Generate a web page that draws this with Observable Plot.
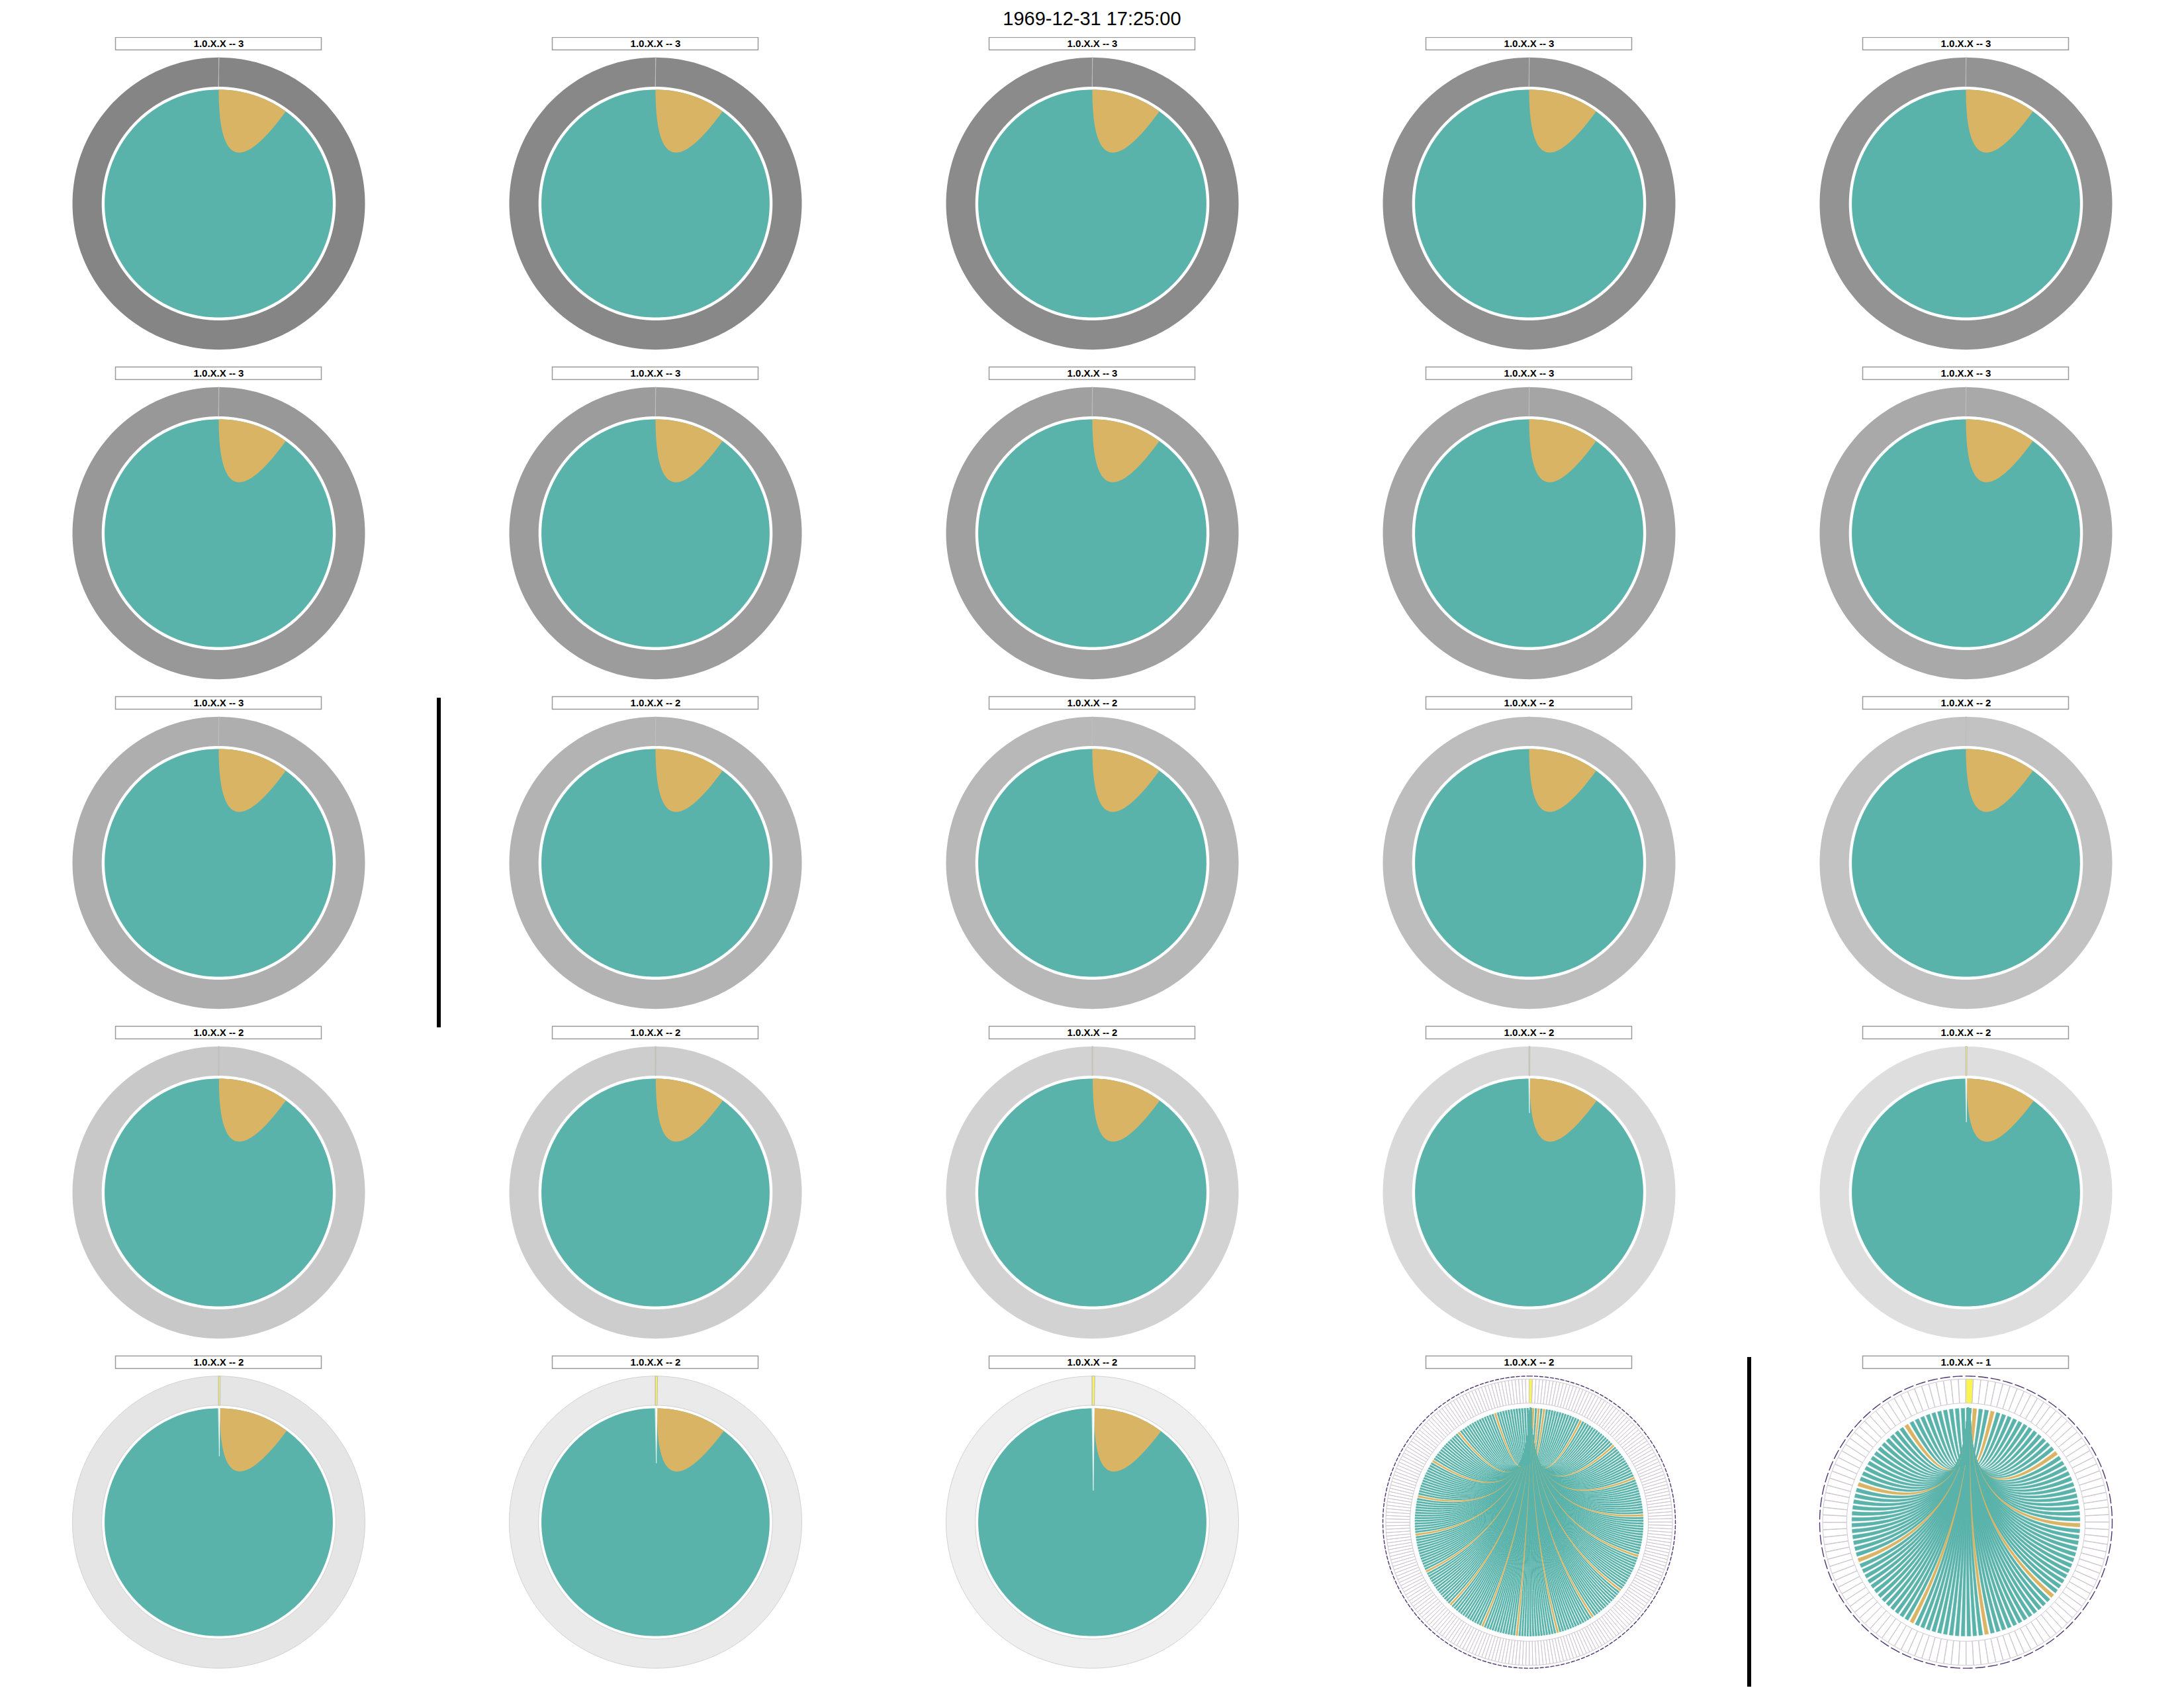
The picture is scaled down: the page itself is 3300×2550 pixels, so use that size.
<!DOCTYPE html>
<html>
<head>
<meta charset="utf-8">
<script src="https://cdn.jsdelivr.net/npm/d3@7"></script>
<script src="https://cdn.jsdelivr.net/npm/@observablehq/plot@0.6"></script>
<style>
html, body { margin: 0; padding: 0; background: #fff; }
#title { height: 56px; line-height: 56px; text-align: center; font-family: "Liberation Sans", Arial, sans-serif; font-size: 29px; color: #000; }
#chart svg { display: block; }
</style>
</head>
<body>
<div id="title"></div>
<div id="chart"></div>
<script>
// ---------------- data ----------------
const chartTitle = "1969-12-31 17:25:00";
const panelLabels = [
  "1.0.X.X -- 3","1.0.X.X -- 3","1.0.X.X -- 3","1.0.X.X -- 3","1.0.X.X -- 3",
  "1.0.X.X -- 3","1.0.X.X -- 3","1.0.X.X -- 3","1.0.X.X -- 3","1.0.X.X -- 3",
  "1.0.X.X -- 3","1.0.X.X -- 2","1.0.X.X -- 2","1.0.X.X -- 2","1.0.X.X -- 2",
  "1.0.X.X -- 2","1.0.X.X -- 2","1.0.X.X -- 2","1.0.X.X -- 2","1.0.X.X -- 2",
  "1.0.X.X -- 2","1.0.X.X -- 2","1.0.X.X -- 2","1.0.X.X -- 2","1.0.X.X -- 1"
];
// dense panels (1..23): colour of the node ring
const ringGray = [
  "#858585","#888888","#8b8b8b","#8f8f8f","#939393",
  "#989898","#9c9c9c","#a0a0a0","#a5a5a5","#a9a9a9",
  "#aeaeae","#b3b3b3","#b8b8b8","#bdbdbd","#c2c2c2",
  "#c8c8c8","#cdcdcd","#d2d2d2","#d9d9d9","#dedede",
  "#e5e5e5","#eaeaea","#efefef"
];
// angular span (deg) of the gold ribbons in dense panels
const goldSpanDeg = [36,36,36,36,36, 36,36,36,36,36, 36,36,36,36,36, 36,36,36,36,36, 36,36,36];
// angular width (deg) of the source node at the top
const sourceWidthDeg = [0,0,0,0,0, 0,0,0,0,0, 0,0,0,0,0, 0.1,0.15,0.2,0.3,0.45, 0.6,0.8,1.0];
// depth (fraction of radius) of the white gap under the source
const sliverDepth = [0,0,0,0,0, 0,0,0,0,0, 0,0,0,0,0, 0,0,0,0.3,0.38, 0.42,0.48,0.72];
// detailed panels 24 and 25
const detailIndex = [23, 24];
const detailSlots = [260, 120];
const goldAngles24 = [2.3,5.1,7.9,27.5,47.4,67.7,87.2,107,127,146.5,166,186,204,223.4,243.9,263.3,282.6,302.6,322.6,342.4];
const goldAngles25 = [4.6,12,51.8,91.7,131.4,170.5,209.8,250,288.4,328.5];
const detailGold = [goldAngles24, goldAngles25];

// ---------------- styles & layout ----------------
const TEAL = "#5ab3aa", GOLD = "#d9b464", YELLOW = "#f8f450", SEG_STROKE = "#cdc7d2", PURPLE = "#4e3472";
const W = 3300, H = 2550 - 56, COLS = 5, ROWS = 5, PX = 221;
const xHalf = W / COLS / 2 / PX, yHalf = H / ROWS / 2 / PX;
const R_DISK = 0.78, RING_IN = 0.80, SEG_IN = 0.815, SEG_OUT = 0.98;
const LW = 155.5 / PX, LT = 251 / PX, LB = 232 / PX;
const RIB_PAD = [0.25, 0.19];

document.getElementById("title").textContent = chartTitle;

const rad = d => d * Math.PI / 180;
const pt = (r, deg) => [r * Math.sin(rad(deg)), r * Math.cos(rad(deg))];
function arc(r, a0, a1, n) { const o = []; for (let k = 0; k <= n; k++) o.push(pt(r, a0 + (a1 - a0) * k / n)); return o; }
function bez(p0, p2, n) { const o = []; for (let k = 1; k < n; k++) { const t = k / n, a = (1 - t) * (1 - t), b = t * t; o.push([a * p0[0] + b * p2[0], a * p0[1] + b * p2[1]]); } return o; }

const panels = panelLabels.map((label, i) => ({i, label, col: i % COLS, row: Math.floor(i / COLS)}));
const separators = panels.filter((p, i) => i > 0 && p.label !== panels[i - 1].label);

function add(arr, p, id, fill, pts, stroke) {
  for (const [x, y] of pts) arr.push({col: p.col, row: p.row, id: p.i + "-" + id, fill, stroke: stroke || "none", x, y});
}

const ringPts = [], srcPts = [], bodyPts = [], sliverPts = [], segPts = [], dash24 = [], dash25 = [];
const ribbons = [[], []];

ringGray.forEach((g, i) => {
  const p = panels[i];
  const w = sourceWidthDeg[i];
  add(ringPts, p, "ring", g, [...arc(1, 0, 360, 240), ...arc(RING_IN, 360, 0, 240)], i >= 20 ? "#d2d2d2" : "none");
  add(srcPts, p, "src", YELLOW, [...arc(1, 0, w, 2), ...arc(RING_IN, w, 0, 2)]);
  add(bodyPts, p, "disk", TEAL, arc(R_DISK, 0, 360, 240));
  const g1 = w + goldSpanDeg[i];
  add(bodyPts, p, "gold", GOLD, [...arc(R_DISK, w, g1, 60), ...bez(pt(R_DISK, g1), pt(R_DISK, w), 48)]);
  if (sliverDepth[i] > 0) {
    add(sliverPts, p, "sliver", "white", [pt(R_DISK, -0.1), pt(R_DISK, w), [pt(R_DISK, w / 2)[0], R_DISK * (1 - sliverDepth[i])]]);
  }
});

detailIndex.forEach((idx, j) => {
  const p = panels[idx];
  const N = detailSlots[j], step = 360 / N;
  const isGold = new Set(detailGold[j].map(g => Math.max(1, Math.floor(g / step))));
  const segPad = step * 0.04, pad = step * RIB_PAD[j];
  for (let k = 0; k < N; k++) {
    const a0 = k * step + segPad, a1 = (k + 1) * step - segPad;
    add(segPts, p, "seg" + k, k === 0 ? YELLOW : "white", [...arc(SEG_OUT, a0, a1, 3), ...arc(SEG_IN, a1, a0, 3)]);
  }
  const h0 = pad, h1 = step - pad;
  for (let k = 1; k < N; k++) {
    const a0 = k * step + pad, a1 = (k + 1) * step - pad;
    const pts = [...arc(R_DISK, a0, a1, 4), ...bez(pt(R_DISK, a1), pt(R_DISK, h0), 40), ...arc(R_DISK, h0, h1, 2), ...bez(pt(R_DISK, h1), pt(R_DISK, a0), 40)];
    const c = isGold.has(k) ? GOLD : TEAL;
    add(ribbons[j], p, "rib" + k, c, pts, c);
  }
  add(j === 0 ? dash24 : dash25, p, "dash", PURPLE, arc(1, 0, 360, 360));
});

const chart = Plot.plot({
  width: W, height: H, margin: 0,
  x: {domain: [-xHalf, xHalf], axis: null},
  y: {domain: [-yHalf, yHalf], axis: null},
  fx: {domain: d3.range(COLS), padding: 0, axis: null},
  fy: {domain: d3.range(ROWS), padding: 0, axis: null},
  color: {type: "identity"},
  style: {background: "white", fontFamily: "Liberation Sans, Arial, sans-serif"},
  marks: [
    Plot.line(ringPts, {x: "x", y: "y", z: "id", fx: "col", fy: "row", fill: "fill", stroke: "stroke", strokeWidth: 1, curve: "linear-closed"}),
    Plot.line(segPts, {x: "x", y: "y", z: "id", fx: "col", fy: "row", fill: "fill", stroke: SEG_STROKE, strokeWidth: 1, curve: "linear-closed"}),
    Plot.line(srcPts, {x: "x", y: "y", z: "id", fx: "col", fy: "row", fill: "fill", stroke: "#bdbdbd", strokeWidth: 1, curve: "linear-closed"}),
    Plot.line(bodyPts, {x: "x", y: "y", z: "id", fx: "col", fy: "row", fill: "fill", stroke: "none", curve: "linear-closed"}),
    Plot.line(sliverPts, {x: "x", y: "y", z: "id", fx: "col", fy: "row", fill: "fill", stroke: "white", strokeWidth: 0.6, curve: "linear-closed"}),
    Plot.line(ribbons[0], {x: "x", y: "y", z: "id", fx: "col", fy: "row", fill: "fill", stroke: "stroke", strokeWidth: 0.9, curve: "linear-closed", shapeRendering: "crispEdges"}),
    Plot.line(ribbons[1], {x: "x", y: "y", z: "id", fx: "col", fy: "row", fill: "fill", stroke: "stroke", strokeWidth: 0.5, curve: "linear-closed"}),
    Plot.line(dash24, {x: "x", y: "y", z: "id", fx: "col", fy: "row", stroke: PURPLE, strokeWidth: 1.4, strokeDasharray: "5,3", curve: "linear"}),
    Plot.line(dash25, {x: "x", y: "y", z: "id", fx: "col", fy: "row", stroke: PURPLE, strokeWidth: 1.4, strokeDasharray: "14,5", curve: "linear"}),
    Plot.rect(panels, {x1: -LW, x2: LW, y1: LB, y2: LT, fx: "col", fy: "row", fill: "white", stroke: "#9a9a9a", strokeWidth: 1.5}),
    Plot.text(panels, {x: 0, y: (LT + LB) / 2, text: "label", fx: "col", fy: "row", fill: "black", fontWeight: "bold", fontSize: 15}),
    Plot.ruleX(separators, {x: -xHalf + 2.5 / PX, fx: "col", fy: "row", stroke: "black", strokeWidth: 6})
  ]
});
document.getElementById("chart").appendChild(chart);
</script>
</body>
</html>
